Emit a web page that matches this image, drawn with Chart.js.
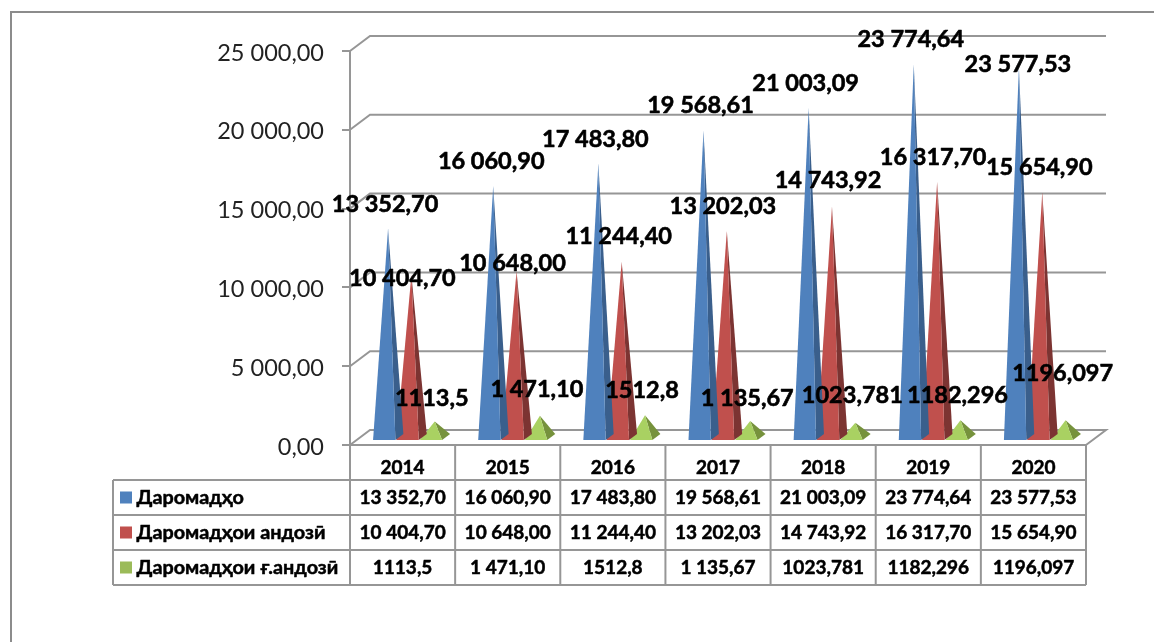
<!DOCTYPE html>
<html><head><meta charset="utf-8">
<style>html,body{margin:0;padding:0;background:#fff;overflow:hidden}canvas{display:block}</style>
<script src="https://cdn.jsdelivr.net/npm/chart.js@4"></script>
</head><body><canvas id="c" width="1154" height="642"></canvas>
<script>
const years = ["2014","2015","2016","2017","2018","2019","2020"];
const seriesNames = ["Даромадҳо","Даромадҳои андозӣ","Даромадҳои ғ.андозӣ"];
const revenue = [13352.70,16060.90,17483.80,19568.61,21003.09,23774.64,23577.53];
const taxRevenue = [10404.70,10648.00,11244.40,13202.03,14743.92,16317.70,15654.90];
const nonTaxRevenue = [1113.5,1471.10,1512.8,1135.67,1023.781,1182.296,1196.097];
const revenueText = ["13 352,70","16 060,90","17 483,80","19 568,61","21 003,09","23 774,64","23 577,53"];
const taxText = ["10 404,70","10 648,00","11 244,40","13 202,03","14 743,92","16 317,70","15 654,90"];
const nonTaxText = ["1113,5","1 471,10","1512,8","1 135,67","1023,781","1182,296","1196,097"];
const legendColors = ["#4f81bd","#c0504d","#9bbb59"];
const faceColors = ["#4f81bd","#c0504d","#a9d162"];
const sideColors = ["#3a5f8c","#7c3432","#76923c"];
// manual label nudges relative to each pyramid's apex
const nudgeX = [[-3,-2,-3,-3,-3,-3,-1],[-9,-4,-3,-4,-4,-4,-3],[-3,-3,-3,-3,-3,-3,-3]];
const nudgeY = [[-26,-26,-26,-27,-27,-27,-5],[1,-10,-27,-27,-28,-26,-27],[-25,-28,-27,-25,-29,-27,-49]];
const allText = [revenueText,taxText,nonTaxText];
const GRAY="#969696", DX=20, DY=15, BASE_UP=4, APEX_LIFT=2, SHIFT=5.5;
const BOLD='"Lato","Open Sans","Noto Sans",sans-serif';

function heavyText(c,t,x,y,sw){ c.lineWidth=sw; c.strokeStyle="#000"; c.lineJoin="round"; c.strokeText(t,x,y); c.fillText(t,x,y); }

const scene = {
  id:"scene",
  beforeDatasetsDraw(ch){
    const c=ch.ctx, y=ch.scales.y, a=ch.chartArea;
    c.save();
    c.lineWidth=2;
    c.beginPath(); c.moveTo(11,642); c.lineTo(11,12); c.lineTo(1154,12); c.strokeStyle="#8c8c8c"; c.stroke();
    c.strokeStyle=GRAY;
    y.ticks.forEach(t=>{
      const p=y.getPixelForValue(t.value);
      c.beginPath(); c.moveTo(a.left,p); c.lineTo(a.left+DX,p-DY); c.lineTo(a.right+DX,p-DY);
      if(t.value===0){ c.lineTo(a.right,p); }
      c.stroke();
    });
    const p0=y.getPixelForValue(0);
    c.beginPath(); c.moveTo(a.left,a.top); c.lineTo(a.left,p0); c.lineTo(a.right,p0); c.stroke();
    c.restore();
  },
  beforeDatasetDraw(ch,args){
    const c=ch.ctx, i=args.index, meta=args.meta;
    c.save();
    meta.data.forEach(b=>{
      const w=b.width, xl=b.x-w/2+SHIFT, xr=xl+w, tip=xl+15, by=b.base-BASE_UP, ty=b.y-BASE_UP-APEX_LIFT;
      c.fillStyle=sideColors[i];
      c.beginPath(); c.moveTo(xr-1,by); c.lineTo(xr+7,by-6); c.lineTo(tip,ty); c.closePath(); c.fill();
      c.fillStyle=faceColors[i];
      c.beginPath(); c.moveTo(xl,by); c.lineTo(xr-1,by); c.lineTo(tip,ty); c.closePath(); c.fill();
    });
    c.restore();
    return false;
  },
  afterDatasetsDraw(ch){
    const c=ch.ctx, a=ch.chartArea, x=ch.scales.x, colW=(a.right-a.left)/years.length;
    c.save();
    const rows=[480,515,550,585], tl=113;
    c.strokeStyle=GRAY; c.lineWidth=2;
    rows.forEach(r=>{c.beginPath(); c.moveTo(tl,r); c.lineTo(a.right,r); c.stroke();});
    c.beginPath(); c.moveTo(tl,480); c.lineTo(tl,585); c.stroke();
    years.forEach((_,k)=>{
      const vx=a.left+colW*k;
      c.beginPath(); c.moveTo(vx,a.bottom); c.lineTo(vx,585); c.stroke();
    });
    c.beginPath(); c.moveTo(a.right,a.bottom); c.lineTo(a.right,585); c.stroke();
    c.textBaseline="middle"; c.fillStyle="#000";
    allText.forEach((vals,s)=>{
      const ry=(rows[s]+rows[s+1])/2;
      c.fillStyle=legendColors[s]; c.fillRect(120,ry-6,12,12);
      c.fillStyle="#000"; c.textAlign="left"; c.font='bold 19.8px '+BOLD;
      heavyText(c,seriesNames[s],136.5,ry,0.5);
      c.textAlign="center"; c.font='bold 19px '+BOLD;
      vals.forEach((t,k)=>heavyText(c,t,x.getPixelForTick(k),ry,0.5));
    });
    c.font='bold 23.5px '+BOLD;
    allText.forEach((vals,s)=>{
      const m=ch.getDatasetMeta(s);
      vals.forEach((t,k)=>{
        const b=m.data[k], tip=b.x-b.width/2+SHIFT+15;
        heavyText(c,t,tip+nudgeX[s][k],b.y-BASE_UP+nudgeY[s][k],0.6);
      });
    });
    c.restore();
  }
};

new Chart(document.getElementById("c"),{
  type:"bar",
  data:{labels:years,datasets:[
    {label:seriesNames[0],data:revenue,backgroundColor:legendColors[0]},
    {label:seriesNames[1],data:taxRevenue,backgroundColor:legendColors[1]},
    {label:seriesNames[2],data:nonTaxRevenue,backgroundColor:legendColors[2]}
  ]},
  options:{
    responsive:false,animation:false,
    layout:{padding:{top:51,right:68,left:0,bottom:0}},
    plugins:{legend:{display:false},tooltip:{enabled:false},title:{display:false}},
    datasets:{bar:{categoryPercentage:0.666,barPercentage:1}},
    scales:{
      x:{
        afterFit(s){s.height=197;},
        grid:{display:false},border:{display:false},
        ticks:{color:"#000",padding:3,maxRotation:0,textStrokeColor:"#000",textStrokeWidth:0.5,font:{family:BOLD,size:19,weight:"bold"}}
      },
      y:{
        min:0,max:25000,
        afterFit(s){s.width=350;},
        border:{display:false},
        grid:{drawOnChartArea:false,drawTicks:true,tickLength:8,color:GRAY,lineWidth:2},
        ticks:{stepSize:5000,color:"#222",padding:18,labelOffset:2,font:{family:'"Lato","Open Sans",sans-serif',size:23.5},
          callback:v=>(v===0?"0":Math.floor(v/1000)+" "+String(v%1000).padStart(3,"0"))+",00"}
      }
    }
  },
  plugins:[scene]
});
</script></body></html>
